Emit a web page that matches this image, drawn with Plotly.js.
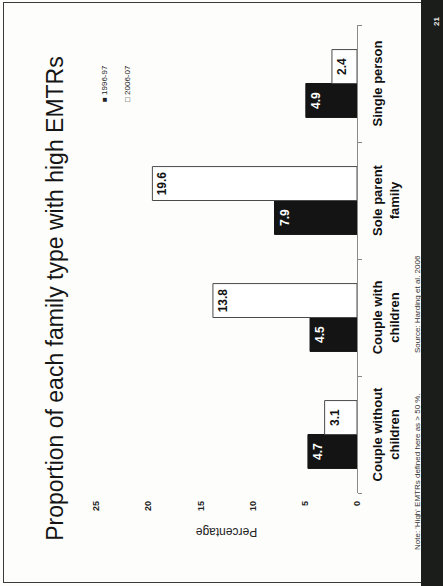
<!DOCTYPE html>
<html><head><meta charset="utf-8">
<script src="https://cdn.plot.ly/plotly-3.0.1.min.js"></script>
<style>
html,body{margin:0;padding:0;background:#f6f6f4;width:443px;height:586px;overflow:hidden;}
#slide{position:absolute;left:0;top:0;width:586px;height:443px;transform-origin:0 0;transform:translateY(586px) rotate(-90deg);background:#fdfdfc;}
#frame{position:absolute;left:3px;top:3px;width:581px;height:420px;border:1.5px solid #3a3a3a;box-sizing:border-box;}
#band{position:absolute;left:0;top:421px;width:586px;height:22px;background:#1b1d1b;}
#chart{position:absolute;left:0;top:0;width:586px;height:443px;}
</style></head>
<body>
<div id="slide"><div id="frame"></div><div id="band"></div><div id="chart"></div></div>
<script>
// ---- data ----
const categories = ["Couple without children", "Couple with children", "Sole parent family", "Single person"];
const categoryLabels = ["Couple without<br>children", "Couple with<br>children", "Sole parent<br>family", "Single person"];
const seriesNames = ["1996-97", "2006-07"];
const values1996 = [4.7, 4.5, 7.9, 4.9];
const values2006 = [3.1, 13.8, 19.6, 2.4];
const valueTicks = [0, 5, 10, 15, 20, 25];
const titleText = "Proportion of each family type with high EMTRs";
const yTitle = "Percentage";
const noteText = "Note: 'High' EMTRs defined here as > 50 %.";
const sourceText = "Source: Harding et al. 2006";
const slideNumber = "21";

// ---- layout helpers (slide pixel -> paper) ----
const W = 586, H = 443;
const M = {l: 93, r: 25, t: 95.5, b: 86.3};
const pw = W - M.l - M.r, ph = H - M.t - M.b;
const xp = sx => (sx - M.l) / pw;
const yp = sy => (H - M.b - sy) / ph;
const FONT = "Liberation Sans, Arial, sans-serif";

const traces = [
  {
    type: "bar", name: seriesNames[0], x: categories, y: values1996,
    text: values1996.map(v => v.toFixed(1)), textposition: "inside", insidetextanchor: "end",
    textangle: 0, constraintext: "none",
    insidetextfont: {family: FONT, size: 12, color: "#ffffff", weight: "bold"},
    marker: {color: "#141414", line: {color: "#141414", width: 1}},
    showlegend: false, hoverinfo: "skip"
  },
  {
    type: "bar", name: seriesNames[1], x: categories, y: values2006,
    text: values2006.map(v => v.toFixed(1)), textposition: "inside", insidetextanchor: "end",
    textangle: 0, constraintext: "none",
    insidetextfont: {family: FONT, size: 12, color: "#111111", weight: "bold"},
    marker: {color: "#ffffff", line: {color: "#4a4a4a", width: 1}},
    showlegend: false, hoverinfo: "skip"
  }
];

const layout = {
  width: W, height: H,
  margin: M,
  paper_bgcolor: "rgba(0,0,0,0)", plot_bgcolor: "rgba(0,0,0,0)",
  font: {family: FONT, color: "#111"},
  barmode: "group", bargap: 0.42, bargroupgap: 0,
  showlegend: false,
  title: {
    text: titleText, font: {family: FONT, size: 23, color: "#151515"},
    x: 287.5 / W, xanchor: "center", xref: "container",
    y: 1 - 55 / H, yanchor: "middle", yref: "container"
  },
  xaxis: {
    type: "category", categoryorder: "array", categoryarray: categories,
    tickmode: "array", tickvals: categories, ticktext: categoryLabels,
    tickson: "boundaries", ticks: "outside", ticklen: 4, tickcolor: "#888", tickwidth: 1,
    showline: true, linecolor: "#8a8a8a", linewidth: 1,
    showgrid: false, zeroline: false, ticklabelstandoff: 8,
    tickfont: {family: FONT, size: 13, color: "#111", weight: "bold"},
    range: [-0.5, categories.length - 0.5], fixedrange: true
  },
  yaxis: {
    range: [0, 25], tickmode: "array", tickvals: valueTicks,
    ticktext: valueTicks.map(String),
    ticks: "", showline: false, showgrid: false, zeroline: false,
    ticklabelstandoff: 7,
    tickfont: {family: FONT, size: 9, color: "#222", weight: "bold"},
    title: {text: yTitle, font: {family: FONT, size: 12, color: "#222"}, standoff: 13},
    fixedrange: true
  },
  annotations: [
    {text: "■ " + seriesNames[0], xref: "paper", yref: "paper", x: xp(482), y: yp(104),
     xanchor: "left", yanchor: "middle", showarrow: false,
     font: {family: FONT, size: 8, color: "#222"}},
    {text: "□ " + seriesNames[1], xref: "paper", yref: "paper", x: xp(482), y: yp(127.5),
     xanchor: "left", yanchor: "middle", showarrow: false,
     font: {family: FONT, size: 8, color: "#222"}},
    {text: noteText, xref: "paper", yref: "paper", x: xp(34), y: yp(417),
     xanchor: "left", yanchor: "middle", showarrow: false,
     font: {family: FONT, size: 8, color: "#333"}},
    {text: sourceText, xref: "paper", yref: "paper", x: xp(231), y: yp(417),
     xanchor: "left", yanchor: "middle", showarrow: false,
     font: {family: FONT, size: 8, color: "#333"}},
    {text: slideNumber, xref: "paper", yref: "paper", x: xp(564), y: yp(436),
     xanchor: "center", yanchor: "middle", showarrow: false,
     font: {family: FONT, size: 8, color: "#e8e8e8", weight: "bold"}}
  ]
};

Plotly.newPlot("chart", traces, layout, {staticPlot: true, displayModeBar: false});
</script>
</body></html>
